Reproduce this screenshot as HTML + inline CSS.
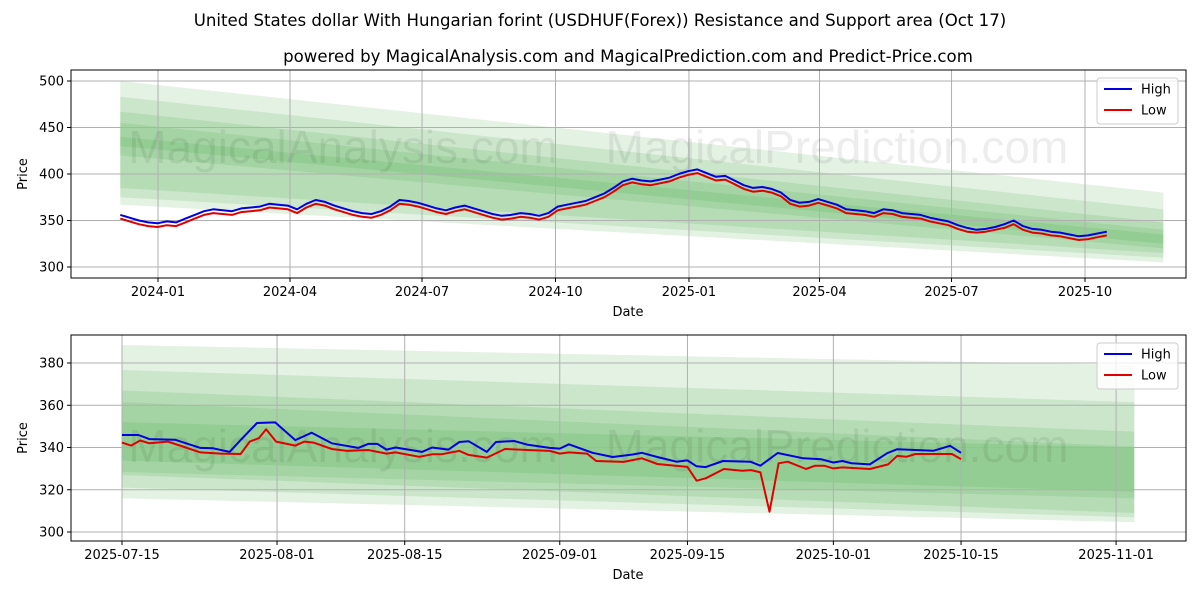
<!DOCTYPE html>
<html><head><meta charset="utf-8"><style>
body{margin:0;background:#fff}
svg{font-family:"DejaVu Sans","Liberation Sans",sans-serif;display:block}
</style></head><body>
<svg id="c" width="1200" height="600">
<text x="600" y="26" font-size="16.6" text-anchor="middle">United States dollar With Hungarian forint (USDHUF(Forex)) Resistance and Support area (Oct 17)</text>
<text x="628" y="62" font-size="16.6" text-anchor="middle">powered by MagicalAnalysis.com and MagicalPrediction.com and Predict-Price.com</text>
<g id="top"></g>
<g id="bot"></g>
</svg>
<script>
// ---- top chart data (weekly) ----
const topStart = "2023-12-06", topEnd = "2025-10-16";
const topHigh = [356,353,350,348,347,349,348,352,356,360,362,361,360,363,364,365,368,367,366,362,368,372,370,366,363,360,358,357,360,365,372,371,369,366,363,361,364,366,363,360,357,355,356,358,357,355,358,365,367,369,371,375,379,385,392,395,393,392,394,396,400,403,405,401,397,398,393,388,385,386,384,380,372,369,370,373,370,367,362,361,360,358,362,361,358,357,356,353,351,349,345,342,340,341,343,346,350,344,341,340,338,337,335,333,334,336,338];
const topLow = [352,349,346,344,343,345,344,348,352,356,358,357,356,359,360,361,364,363,362,358,364,368,366,362,359,356,354,353,356,361,368,367,365,362,359,357,360,362,359,356,353,351,352,354,353,351,354,361,363,365,367,371,375,381,388,391,389,388,390,392,396,399,401,397,393,394,389,384,381,382,380,376,368,365,366,369,366,363,358,357,356,354,358,357,354,353,352,349,347,345,341,338,337,338,340,342,346,340,337,336,334,333,331,329,330,332,334];
const topBandStartTop=[500,483,467,455,440];
const topBandEndTop=[380,362,348,340,335];
const topBandStartBot=[367,375,385,420,430];
const topBandEndBot=[305,310,315,320,325];
const topYTicks=[300,350,400,450,500];
const topXTicks=["2024-01","2024-04","2024-07","2024-10","2025-01","2025-04","2025-07","2025-10"];
// ---- bottom chart data ----
const botHighDays=[0,1.8,3,5.8,8.6,10,11.8,13,14.8,16.8,19,20.8,23,25.9,27,28,29,30,32.9,34,35.8,37,38,40,41,43,44.5,46.9,48,49,51.6,53.8,56,57,58.7,60.8,62,63,64,65.9,68.9,70,71.9,74.7,76.7,78,79,80,82,83.9,85,89,90.8,92];
const botHigh=[345.9,345.9,344,343.7,339.8,339.6,337.9,343.5,351.6,351.9,343.5,347,342,339.8,341.7,341.7,339,340,337.9,340,339,342.6,343,337.9,342.6,343.1,341.3,339.8,339.5,341.5,337.5,335.5,336.7,337.5,335.5,333.3,333.9,331.1,330.7,333.6,333.3,331.4,337.4,334.9,334.4,332.9,333.6,332.5,332,337.3,339.2,338.5,340.8,337.5];
const botLowDays=[0,1,2,3,5,6.5,8.6,10.8,13,14,15,15.8,16.9,19,20,21,23,24.7,27,29,30,32.6,34,35,37,38,40,42,44.5,46.9,48,49,51,52,55,57,58.7,62,63,64,66,68,69,70,71,72,73,75,76,77,78,79,82,84,85,86,87,91,92];
const botLow=[342.3,340.9,343.3,342,342.8,340.7,337.7,337.1,336.9,342.8,344.4,348.6,342.8,340.9,342.8,342.3,339.3,338.4,338.8,337.1,337.7,335.6,336.8,336.8,338.4,336.5,335.2,339.3,338.8,338.4,337.1,337.7,337.1,333.6,333.2,334.9,332.2,330.8,324.3,325.4,329.8,329,329.3,328.2,309.6,332.5,333.3,329.8,331.4,331.4,330.1,330.6,329.8,332,336,335.6,336.9,336.9,334.5];
const botBandStartTop=[388.5,376.7,367,361.5,352];
const botBandEndTop=[379,361.5,347.5,340.5,340];
const botBandStartBot=[316,321,327,328.4,333.8];
const botBandEndBot=[304.7,307,309,316,319];
const botYTicks=[300,320,340,360,380];
const botXTicks=["2025-07-15","2025-08-01","2025-08-15","2025-09-01","2025-09-15","2025-10-01","2025-10-15","2025-11-01"];

const NS="http://www.w3.org/2000/svg";
function mk(p,t,a){const e=document.createElementNS(NS,t);for(const k in a)e.setAttribute(k,a[k]);p.appendChild(e);return e;}
const D=s=>Date.parse(s)/86400000;

function panel(g,o){
  const L=71,R=1186,T=o.top,B=o.bot;
  const xs=d=>o.x0+(d-D(o.d0))*o.pxd;
  const ys=v=>o.y0+(o.v0-v)*o.pxv;
  mk(g,'rect',{x:L,y:T,width:R-L,height:B-T,fill:'#fff'});
  const bx0=xs(D(o.bandStart)),bx1=xs(D(o.bandEnd));
  for(let i=0;i<o.bst.length;i++){
    const p=mk(g,'polygon',{points:`${bx0},${ys(o.bst[i])} ${bx1},${ys(o.bet[i])} ${bx1},${ys(o.beb[i])} ${bx0},${ys(o.bsb[i])}`,fill:'rgb(60,160,60)','fill-opacity':0.14});
    
    
  }
  o.yt.forEach(v=>{const y=ys(v);mk(g,'line',{x1:L,x2:R,y1:y,y2:y,stroke:'#b0b0b0','stroke-width':1});
    mk(g,'line',{x1:L-4,x2:L,y1:y,y2:y,stroke:'#000'});
    const t=mk(g,'text',{x:L-7,y:y+4.5,'font-size':13,'text-anchor':'end'});t.textContent=v;
    });
  o.xt.forEach(s=>{const x=xs(D(o.tickDate(s)));mk(g,'line',{x1:x,x2:x,y1:T,y2:B,stroke:'#b0b0b0','stroke-width':1});
    mk(g,'line',{x1:x,x2:x,y1:B,y2:B+4,stroke:'#000'});
    const t=mk(g,'text',{x:x,y:B+18,'font-size':13,'text-anchor':'middle'});t.textContent=s;
    });
  [[343,'MagicalAnalysis.com'],[837,'MagicalPrediction.com']].forEach(w=>{
    const t=mk(g,'text',{x:w[0],y:o.wm,'font-size':46,'text-anchor':'middle',fill:'#000','fill-opacity':0.07,'font-family':'Liberation Sans, sans-serif'});t.textContent=w[1];
    });
  const hp=o.hx.map((d,i)=>`${xs(d).toFixed(1)},${ys(o.hv[i]).toFixed(1)}`).join(' ');
  const lp=o.lx.map((d,i)=>`${xs(d).toFixed(1)},${ys(o.lv[i]).toFixed(1)}`).join(' ');
  const l1=mk(g,'polyline',{points:lp,fill:'none',stroke:'#e00000','stroke-width':2,'stroke-linejoin':'round'});
  
  const l2=mk(g,'polyline',{points:hp,fill:'none',stroke:'#0000e0','stroke-width':2,'stroke-linejoin':'round'});
  
  mk(g,'rect',{x:L,y:T,width:R-L,height:B-T,fill:'none',stroke:'#000','stroke-width':1});
  const yl=mk(g,'text',{x:0,y:0,'font-size':13,'text-anchor':'middle',transform:`translate(27,${(T+B)/2}) rotate(-90)`});yl.textContent='Price';
  
  const xl=mk(g,'text',{x:628,y:B+38,'font-size':13,'text-anchor':'middle'});xl.textContent='Date';
  
  const lg=mk(g,'g',{});
  
  mk(lg,'rect',{x:1097,y:T+8,width:81,height:46,rx:3,fill:'#fff','fill-opacity':0.8,stroke:'#ccc'});
  [['High','#0000e0',T+19],['Low','#e00000',T+40]].forEach(e=>{
    const eg=mk(lg,'g',{});
    
    mk(eg,'line',{x1:1104,x2:1132,y1:e[2],y2:e[2],stroke:e[1],'stroke-width':2});
    const t=mk(eg,'text',{x:1141,y:e[2]+4.5,'font-size':13});t.textContent=e[0];});
}
const t0=D(topStart),t1=D(topEnd),n=topHigh.length;
const topDays=topHigh.map((_,i)=>t0+(t1-t0)*i/(n-1));
panel(document.getElementById('top'),{top:70,bot:278,d0:'2024-01-01',x0:158,pxd:1.4507,v0:500,y0:81,pxv:0.93,
  bandStart:'2023-12-06',bandEnd:'2025-11-24',bst:topBandStartTop,bet:topBandEndTop,bsb:topBandStartBot,beb:topBandEndBot,
  yt:topYTicks,xt:topXTicks,tickDate:s=>s+'-01',wm:163,hx:topDays,hv:topHigh,lx:topDays,lv:topLow});
const b0=D('2025-07-15');
panel(document.getElementById('bot'),{top:335,bot:541,d0:'2025-07-15',x0:122,pxd:9.12,v0:380,y0:363,pxv:2.1125,
  bandStart:'2025-07-15',bandEnd:'2025-11-03',bst:botBandStartTop,bet:botBandEndTop,bsb:botBandStartBot,beb:botBandEndBot,
  yt:botYTicks,xt:botXTicks,tickDate:s=>s,wm:462,hx:botHighDays.map(d=>b0+d),hv:botHigh,lx:botLowDays.map(d=>b0+d),lv:botLow});
</script>
</body></html>
